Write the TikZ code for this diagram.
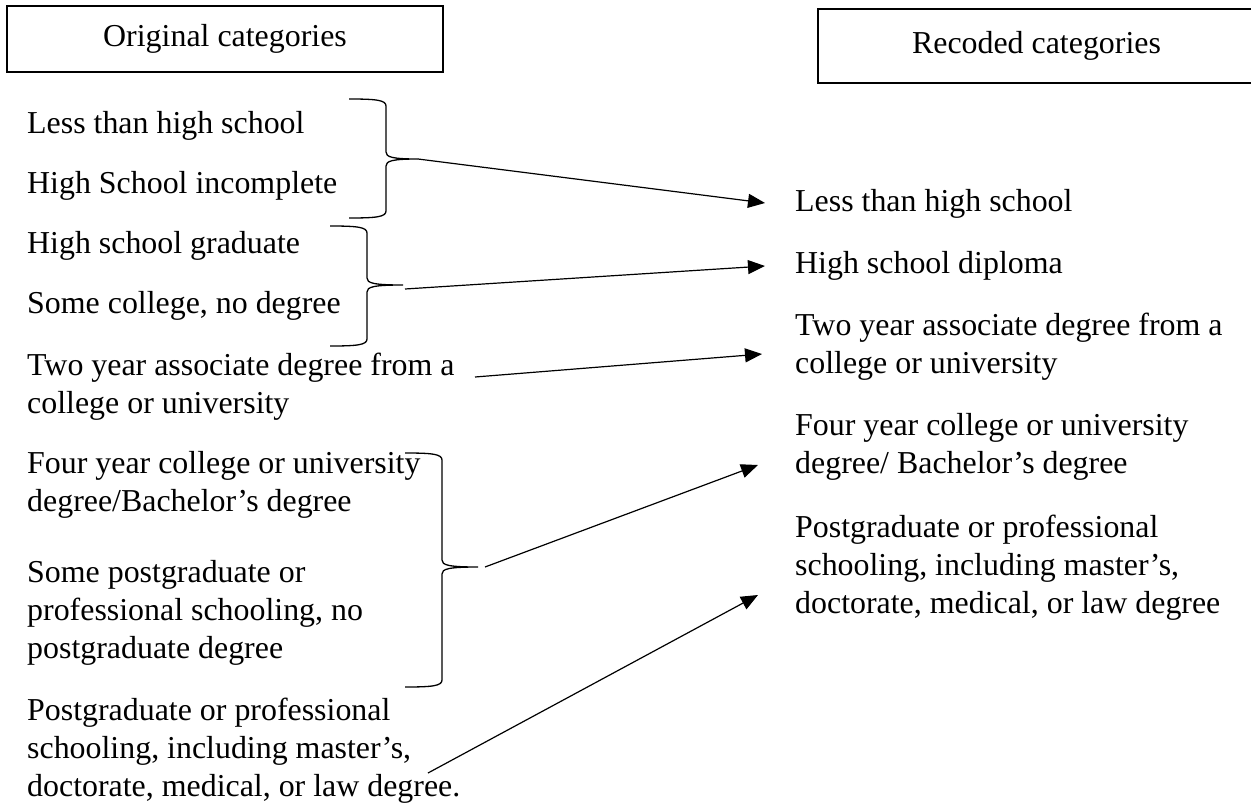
\documentclass[tikz,border=0pt]{standalone}
\usepackage{fontspec}
\setmainfont{Liberation Serif}
\usetikzlibrary{arrows.meta}
\tikzset{
  catbox/.style={draw, line width=1.8pt, inner sep=0pt, font=\fontsize{31.9}{38}\selectfont},
  lbl/.style={anchor=base west, inner sep=0pt, align=left, font=\fontsize{31.9}{38}\selectfont},
  conn/.style={line width=1.2pt, -{Triangle[length=17pt,width=14pt]}},
  bracepath/.style={line width=1.3pt},
}
\newcommand{\drawbrace}[7]{% name, xl, xv, xt, yt, ym, yb
  \draw[bracepath] (#2,#5) .. controls (#3-10,#5) and (#3,#5+1) .. (#3,#5+7)
    -- (#3,#6-7) .. controls (#3,#6-2) and (#3+6,#6) .. (#4,#6)
    .. controls (#3+6,#6) and (#3,#6+2) .. (#3,#6+7)
    -- (#3,#7-7) .. controls (#3,#7-1) and (#3-10,#7) .. (#2,#7);
  \coordinate (#1) at (#4,#6);}
\begin{document}
\begin{tikzpicture}[x=1pt,y=-1pt]
\useasboundingbox (0,0) rectangle (1251,809);
\fill[white] (0,0) rectangle (1251,809);

% header boxes
\node[catbox, minimum width=436pt, minimum height=66pt] (orig) at (225,39) {Original categories};
\node[catbox, minimum width=437pt, minimum height=74pt] (rec) at (1036.5,46) {Recoded categories};

% original categories (anchor = baseline of the last line)
\node[lbl] (o1) at (27,133) {Less than high school};
\node[lbl] (o2) at (27,193) {High School incomplete};
\node[lbl] (o3) at (27,253) {High school graduate};
\node[lbl] (o4) at (27,313) {Some college, no degree};
\node[lbl] (o5) at (27,413) {Two year associate degree from a\\college or university};
\node[lbl] (o6) at (27,511) {Four year college or university\\degree/Bachelor’s degree};
\node[lbl] (o7) at (27,658) {Some postgraduate or\\professional schooling, no\\postgraduate degree};
\node[lbl] (o8) at (27,796) {Postgraduate or professional\\schooling, including master’s,\\doctorate, medical, or law degree.};

% recoded categories
\node[lbl] (r1) at (795,211) {Less than high school};
\node[lbl] (r2) at (795,273) {High school diploma};
\node[lbl] (r3) at (795,373) {Two year associate degree from a\\college or university};
\node[lbl] (r4) at (795,473) {Four year college or university\\degree/ Bachelor’s degree};
\node[lbl] (r5) at (795,613) {Postgraduate or professional\\schooling, including master’s,\\doctorate, medical, or law degree};

% braces
\drawbrace{b1}{349}{386}{418}{99}{159}{218}
\drawbrace{b2}{330}{367}{403}{226}{285}{346}
\drawbrace{b3}{405}{442}{478}{453}{567}{687}

% arrow ends
\coordinate (s2) at (405,289);
\coordinate (s3) at (475,377);
\coordinate (s4) at (485,567);
\coordinate (s5) at (428,773);
\coordinate (e1) at (765,203);
\coordinate (e2) at (765,266);
\coordinate (e3) at (762,354);
\coordinate (e4) at (758,465);
\coordinate (e5) at (758,595);

\draw[conn] (b1) -- (e1);
\draw[conn] (s2) -- (e2);
\draw[conn] (s3) -- (e3);
\draw[conn] (s4) -- (e4);
\draw[conn] (s5) -- (e5);
\end{tikzpicture}
\end{document}
